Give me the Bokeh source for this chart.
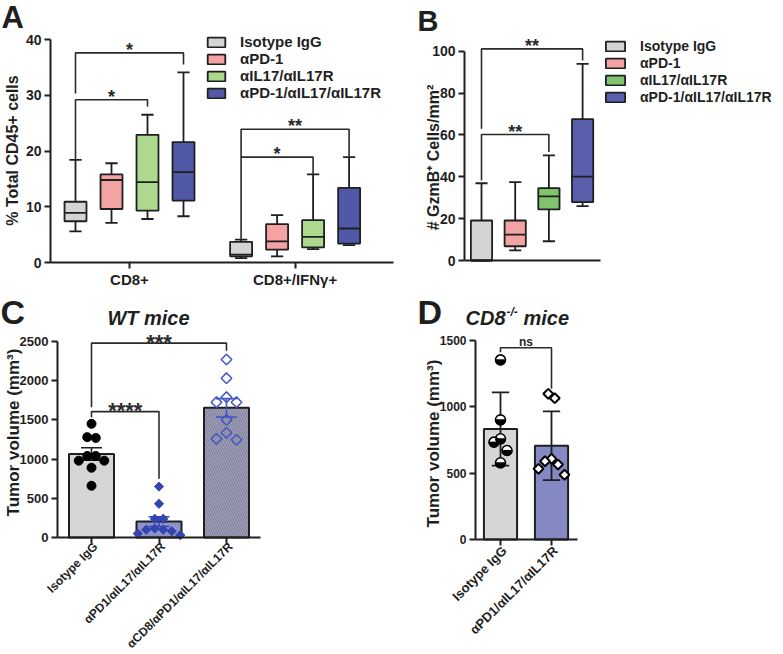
import math
from bokeh.plotting import figure
from bokeh.layouts import column, row
from bokeh.models import Range1d, FixedTicker, Label, Legend, LegendItem
from bokeh.core.properties import value
from bokeh.embed import file_html
from bokeh.resources import INLINE

FONT = "Liberation Sans"
INK = "#1f1f1f"

# ---------------------------------------------------------------- data
treatments = ["Isotype IgG", "αPD-1", "αIL17/αIL17R", "αPD-1/αIL17/αIL17R"]

# Panel A: box plots, two cell populations x four treatments
a_groups = ["CD8+", "CD8+/IFNγ+"]
a_min = [[5.6, 7.1, 7.8, 8.3], [0.8, 1.1, 2.4, 3.1]]
a_q1 = [[7.4, 9.6, 9.3, 11.1], [1.1, 2.3, 2.7, 3.4]]
a_med = [[8.9, 14.8, 14.4, 16.2], [1.4, 3.8, 4.6, 6.1]]
a_q3 = [[10.9, 15.8, 22.9, 21.6], [3.7, 6.9, 7.6, 13.4]]
a_max = [[18.4, 17.8, 26.5, 34.1], [4.1, 8.5, 15.8, 18.9]]
a_yticks = [0, 10, 20, 30, 40]
# (group, from treatment, to treatment, bar level, left leg end, right leg end, label)
a_brackets = [
    (0, 0, 3, 37.6, 30.3, 35.5, "*"),
    (0, 0, 2, 29.2, 18.4, 28.0, "*"),
    (1, 0, 3, 23.9, 18.9, 18.9, "**"),
    (1, 0, 2, 18.9, 4.1, 15.8, "*"),
]

# Panel B: GzmB+ cells / mm2
b_min = [0.0, 4.8, 9.2, 26.0]
b_q1 = [0.0, 6.8, 24.4, 27.9]
b_med = [0.0, 12.4, 30.6, 40.1]
b_q3 = [19.1, 19.1, 34.6, 67.5]
b_max = [36.9, 37.4, 50.2, 93.9]
b_yticks = [0, 20, 40, 60, 80, 100]
b_brackets = [
    (0, 3, 101.1, 62.9, 95.5, "**"),
    (0, 2, 60.2, 38.2, 51.8, "**"),
]

# Panel C: WT mice tumour volumes (individual animals)
c_groups = ["Isotype IgG", "αPD1/αIL17/αIL17R", "αCD8/αPD1/αIL17/αIL17R"]
c_iso = [1450, 1280, 1270, 1040, 1040, 980, 980, 890, 660]
c_combo = [650, 430, 238, 238, 115, 100, 100, 80, 50, 30]
c_cd8 = [2270, 2032, 1790, 1726, 1726, 1500, 1335, 1259, 1246]
c_yticks = [0, 500, 1000, 1500, 2000, 2500]
c_brackets = [
    (0, 2, 2479, 1661, 2381, "***"),
    (0, 1, 1606, 1534, 750, "****"),
]

# Panel D: CD8-/- mice tumour volumes
d_groups = ["Isotype IgG", "αPD1/αIL17/αIL17R"]
d_iso = [1354, 902, 759, 734, 671, 578]
d_combo = [1098, 1065, 608, 590, 565, 533, 488]
d_yticks = [0, 500, 1000, 1500]
d_brackets = [(0, 1, 1445, 1412, 1136, "ns")]

# ---------------------------------------------------------------- styles
box_colors_a = ["#d3d5d3", "#f4a3a5", "#add98f", "#5258a8"]
box_colors_b = ["#d3d5d3", "#f4a3a5", "#80c56e", "#5a5fad"]


# ---------------------------------------------------------------- helpers
class Panel:
    """A figure whose frame fills the whole canvas; axes sit at fixed locations."""

    def __init__(self, w, h, x1_px, xpx, y0_px, ypx):
        self.w, self.h = w, h
        self.x1_px, self.xpx, self.y0_px, self.ypx = x1_px, xpx, y0_px, ypx
        xs = 1 - x1_px / xpx
        ys = -(h - y0_px) / ypx
        self.p = figure(width=w, height=h,
                        x_range=Range1d(xs, xs + w / xpx),
                        y_range=Range1d(ys, ys + h / ypx),
                        output_backend="svg", toolbar_location=None, title=None,
                        min_border_left=0, min_border_right=0,
                        min_border_top=0, min_border_bottom=0)
        p = self.p
        p.xgrid.visible = False
        p.ygrid.visible = False
        p.outline_line_color = None
        p.background_fill_color = "white"
        p.border_fill_color = "white"

    def xval(self, px):
        return 1 + (px - self.x1_px) / self.xpx

    def label(self, px, py, text, size, style="bold", angle=0.0, align="left",
              color=INK):
        # (px, py): canvas pixel of the text's vertical middle
        self.p.add_layout(Label(x=px, y=self.h - py, x_units="screen", y_units="screen",
                                text=text, angle=angle, text_align=align,
                                text_baseline="middle", text_font=FONT,
                                text_font_size=f"{size}px", text_font_style=style,
                                text_color=color))

    def axes(self, size, yticks, yaxis_px, xend_px, xticks, xlabels=None,
             xsize=None, show_xticks=True):
        p = self.p
        for ax in list(p.xaxis) + list(p.yaxis):
            ax.axis_line_color = INK
            ax.axis_line_width = 2
            ax.major_tick_line_color = INK
            ax.major_tick_line_width = 2
            ax.major_tick_out = 6
            ax.major_tick_in = 0
            ax.minor_tick_line_color = None
            ax.major_label_text_font = FONT
            ax.major_label_text_font_style = "bold"
            ax.major_label_text_font_size = f"{size}px"
            ax.major_label_text_color = INK
            ax.major_label_standoff = 3
        ya, xa = p.yaxis[0], p.xaxis[0]
        ya.ticker = FixedTicker(ticks=yticks)
        ya.bounds = (yticks[0], yticks[-1])
        ya.fixed_location = self.xval(yaxis_px)
        xa.fixed_location = 0
        xa.bounds = (self.xval(yaxis_px), self.xval(xend_px))
        xa.ticker = FixedTicker(ticks=xticks)
        if xlabels is None:
            xa.major_label_overrides = {t: "" for t in xticks}
        else:
            xa.major_label_overrides = {t: n for t, n in zip(xticks, xlabels)}
            xa.major_label_standoff = 2
        if xsize:
            xa.major_label_text_font_size = f"{xsize}px"
        if not show_xticks:
            xa.major_tick_out = 0

    def rotated_ticklabels(self, names, size, below_px):
        for k, name in enumerate(names):
            self.p.add_layout(Label(x=k + 1, y=self.h - self.y0_px - below_px,
                                    x_units="data", y_units="screen", text=name,
                                    angle=math.pi / 4, text_align="right",
                                    text_baseline="middle", x_offset=4, text_font=FONT,
                                    text_font_size=f"{size}px", text_font_style="bold",
                                    text_color=INK))


def add_bracket(p, x0, x1, level, left_end, right_end, text, size, y_off,
                style="bold", color="#2a2a2a"):
    p.multi_line(xs=[[x0, x0, x1, x1]], ys=[[left_end, level, level, right_end]],
                 line_color=color, line_width=1.6)
    p.text(x=[(x0 + x1) / 2], y=[level], text=[text], text_align="center",
           text_baseline="middle", y_offset=y_off, text_font=value(FONT),
           text_font_style=style, text_font_size=f"{size}px", text_color=color)


def draw_boxes(p, xs, mins, q1s, meds, q3s, maxs, color, box_w, cap_w):
    lw = 1.8
    p.segment(x0=xs, y0=q3s, x1=xs, y1=maxs, line_color=INK, line_width=lw)
    p.segment(x0=xs, y0=q1s, x1=xs, y1=mins, line_color=INK, line_width=lw)
    p.segment(x0=[x - cap_w / 2 for x in xs], y0=maxs, x1=[x + cap_w / 2 for x in xs],
              y1=maxs, line_color=INK, line_width=lw)
    p.segment(x0=[x - cap_w / 2 for x in xs], y0=mins, x1=[x + cap_w / 2 for x in xs],
              y1=mins, line_color=INK, line_width=lw)
    r = p.vbar(x=xs, width=box_w, bottom=q1s, top=q3s, fill_color=color,
               line_color=INK, line_width=lw)
    p.segment(x0=[x - box_w / 2 for x in xs], y0=meds, x1=[x + box_w / 2 for x in xs],
              y1=meds, line_color=INK, line_width=lw)
    return r


def mean(v):
    return sum(v) / len(v)


def sd(v):
    m = mean(v)
    return math.sqrt(sum((x - m) ** 2 for x in v) / (len(v) - 1))


def swarm(vals, ypx, xpx, row_px, step_px):
    order = sorted(range(len(vals)), key=lambda i: -vals[i])
    rows = []
    for i in order:
        if rows and (vals[rows[-1][0]] - vals[i]) * ypx <= row_px:
            rows[-1].append(i)
        else:
            rows.append([i])
    offs = [0.0] * len(vals)
    for r in rows:
        n = len(r)
        slots = sorted([k - (n - 1) / 2 for k in range(n)], key=lambda s: (abs(s), s))
        for s, i in zip(slots, r):
            offs[i] = s * step_px / xpx
    return offs


def legend(panel, renderers, left_px, top_px, size, gw):
    rows_h = 17
    items = [LegendItem(label=t, renderers=[r]) for t, r in zip(treatments, renderers)]
    leg = Legend(items=items,
                 location=(left_px, panel.h - top_px - rows_h * len(items)),
                 orientation="vertical",
                 label_text_font=FONT, label_text_font_style="bold",
                 label_text_font_size=f"{size}px", label_text_color=INK,
                 glyph_width=gw, glyph_height=12, label_standoff=13,
                 label_height=rows_h, spacing=0, padding=0, margin=0,
                 border_line_color=None, background_fill_alpha=0)
    panel.p.add_layout(leg)


ROW1_H = 292
ROW2_H = 654 - ROW1_H

# ================================================================ Panel A
A = Panel(400, ROW1_H, 75, 36.0, 262, 5.575)
pA = A.p
A_GROUP_STEP = 4.6


def a_pos(g, t):
    return 1 + g * A_GROUP_STEP + t


a_renderers = []
for t in range(len(treatments)):
    xs = [a_pos(g, t) for g in range(len(a_groups))]
    r = draw_boxes(pA, xs, [a_min[g][t] for g in range(2)], [a_q1[g][t] for g in range(2)],
                   [a_med[g][t] for g in range(2)], [a_q3[g][t] for g in range(2)],
                   [a_max[g][t] for g in range(2)], box_colors_a[t], 0.61, 0.34)
    a_renderers.append(r)
for g, i, j, lev, le, re_, txt in a_brackets:
    add_bracket(pA, a_pos(g, i), a_pos(g, j), lev, le, re_, txt, 18, -3)
a_centers = [(a_pos(g, 0) + a_pos(g, 3)) / 2 for g in range(len(a_groups))]
A.axes(14, a_yticks, 50, 393, a_centers, a_groups, xsize=15)
legend(A, a_renderers, 205, 33, 15, 22)
A.label(12, 150, "% Total CD45+ cells", 16, angle=math.pi / 2, align="center")
A.label(1, 17, "A", 31)

# ================================================================ Panel B
B = Panel(383, ROW1_H, 81, 33.7, 260, 2.093)
pB = B.p
b_renderers = []
for t in range(len(treatments)):
    r = draw_boxes(pB, [t + 1], [b_min[t]], [b_q1[t]], [b_med[t]], [b_q3[t]], [b_max[t]],
                   box_colors_b[t], 0.63, 0.36)
    b_renderers.append(r)
for i, j, lev, le, re_, txt in b_brackets:
    add_bracket(pB, i + 1, j + 1, lev, le, re_, txt, 18, -3)
B.axes(14, b_yticks, 64, 200, [], show_xticks=False)
legend(B, b_renderers, 203, 37, 14, 24)
B.label(33, 157, "# GzmB⁺ Cells/mm²", 16, angle=math.pi / 2, align="center")
B.label(17, 20, "B", 29)

# ================================================================ Panel C
C = Panel(400, ROW2_H, 91, 67.5, 537 - ROW1_H, 196.0 / 2500)
pC = C.p
c_data = [c_iso, c_combo, c_cd8]
c_means = [mean(v) for v in c_data]
c_sems = [sd(v) / math.sqrt(len(v)) for v in c_data]
c_bar_fill = ["#d5d7d6", "#8d92c9", "#b8ad80"]
c_err_col = [INK, "#3346b0", "#4557c0"]
for k in range(3):
    kw = dict(x=[k + 1], top=[c_means[k]], bottom=0, width=0.667,
              fill_color=c_bar_fill[k], line_color=INK, line_width=2)
    if k == 2:
        kw.update(hatch_pattern="left_diagonal_line", hatch_color="#7d83c2",
                  hatch_scale=5, hatch_weight=1.5)
    pC.vbar(**kw)
for k in range(3):
    x = k + 1
    lo, hi = c_means[k] - c_sems[k], c_means[k] + c_sems[k]
    cw = 0.31
    pC.segment(x0=[x, x - cw / 2, x - cw / 2], y0=[lo, hi, lo],
               x1=[x, x + cw / 2, x + cw / 2], y1=[hi, hi, lo],
               line_color=c_err_col[k], line_width=1.6)
offs = swarm(c_iso, C.ypx, C.xpx, 7.5, 8.5)
pC.scatter(x=[1 + o for o in offs], y=c_iso, marker="circle", size=9,
           fill_color="black", line_color="black")
offs = swarm(c_combo, C.ypx, C.xpx, 7.5, 8.5)
pC.scatter(x=[2 + o for o in offs], y=c_combo, marker="square", angle=math.pi / 4,
           size=6.5, fill_color="#3346b0", line_color="#3346b0")
offs = swarm(c_cd8, C.ypx, C.xpx, 7.5, 10)
pC.scatter(x=[3 + o for o in offs], y=c_cd8, marker="square", angle=math.pi / 4,
           size=7.5, fill_color=None, line_color="#4557c0", line_width=1.5)
for i, j, lev, le, re_, txt in c_brackets:
    add_bracket(pC, i + 1, j + 1, lev, le, re_, txt, 22, -1)
C.axes(13, c_yticks, 57, 260, [1, 2, 3])
C.rotated_ticklabels(c_groups, 12, 7)
C.label(13, 432 - ROW1_H, "Tumor volume (mm³)", 17, angle=math.pi / 2, align="center")
C.label(148, 317 - ROW1_H, "WT mice", 20, style="bold italic", align="center")
C.label(0, 311 - ROW1_H, "C", 34)

# ================================================================ Panel D
D = Panel(383, ROW2_H, 100, 51.0, 539 - ROW1_H, 199.0 / 1500)
pD = D.p
d_data = [d_iso, d_combo]
d_means = [mean(v) for v in d_data]
d_sds = [sd(v) for v in d_data]
d_bar_fill = ["#d5d7d6", "#8489c3"]
pD.vbar(x=[1, 2], top=d_means, bottom=0, width=0.65, fill_color=d_bar_fill,
        line_color=INK, line_width=2)
for k in range(2):
    x = k + 1
    lo, hi = d_means[k] - d_sds[k], d_means[k] + d_sds[k]
    cw = 0.34
    pD.segment(x0=[x, x - cw / 2, x - cw / 2], y0=[lo, hi, lo],
               x1=[x, x + cw / 2, x + cw / 2], y1=[hi, hi, lo],
               line_color=INK, line_width=1.8)
offs = swarm(d_iso, D.ypx, D.xpx, 17, 6.5)
iso_x = [1 + o for o in offs]
pD.scatter(x=iso_x, y=d_iso, marker="circle", size=10,
           fill_color="white", line_color="black", line_width=1.6)
pD.wedge(x=iso_x, y=d_iso, radius=5, radius_units="screen",
         start_angle=math.pi, end_angle=2 * math.pi,
         fill_color="black", line_color="black", line_width=1)
offs = swarm(d_combo, D.ypx, D.xpx, 17, 6.5)
pD.scatter(x=[2 + o for o in offs], y=d_combo, marker="square", angle=math.pi / 4,
           size=7, fill_color="white", line_color="black", line_width=2)
for i, j, lev, le, re_, txt in d_brackets:
    add_bracket(pD, i + 1, j + 1, lev, le, re_, txt, 12, -6)
D.axes(12, d_yticks, 75, 177, [1, 2])
D.rotated_ticklabels(d_groups, 13, 9)
D.label(33, 443 - ROW1_H, "Tumor volume (mm³)", 17, angle=math.pi / 2, align="center")
D.label(65, 317 - ROW1_H, "CD8", 20, style="bold italic")
D.label(106, 311 - ROW1_H, "-/-", 12, style="bold italic")
D.label(123, 317 - ROW1_H, "mice", 20, style="bold italic")
D.label(17, 311 - ROW1_H, "D", 34)

layout = column(row(pA, pB), row(pC, pD))
open("out.html", "w").write(file_html(layout, INLINE))
